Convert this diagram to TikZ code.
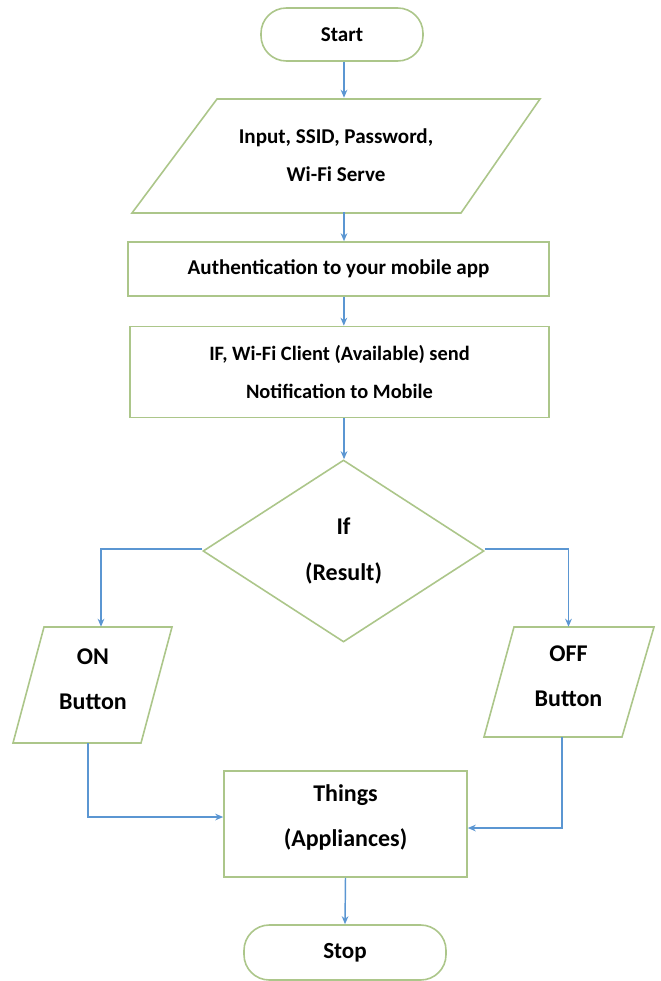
\documentclass[tikz,border=0pt]{standalone}
\usepackage{fontspec}
\setmainfont{Carlito}
\usetikzlibrary{shapes.geometric,arrows.meta,calc}
\definecolor{boxgreen}{RGB}{172,198,138}
\definecolor{arrowblue}{RGB}{91,150,210}
\begin{document}
\begin{tikzpicture}[x=0.75pt,y=-0.75pt,
  font=\fontsize{15.8}{28.5}\selectfont\bfseries,
  bigtext/.style={font=\fontsize{18}{34}\selectfont\bfseries},
  shapeline/.style={draw=boxgreen,line width=1.2pt},
  box/.style={shapeline,rectangle,inner sep=0pt,align=center},
  termbox/.style={box,rounded corners=19pt},
  txt/.style={rectangle,inner sep=0pt,align=center,minimum width=10pt},
  arr/.style={draw=arrowblue,line width=1.1pt,-{Stealth[length=6pt,width=5pt]}}]
\useasboundingbox (0,0) rectangle (660,981);
% shapes
\node[termbox,minimum width=121.5pt,minimum height=39.75pt] (start) at (342,34.5) {Start};
\draw[shapeline] (217,99) -- (540,99) -- (461,213) -- (132,213) -- cycle;
\node[txt,minimum height=85.5pt] (in) at (336,155) {Input, SSID, Password,\\Wi-Fi Serve};
\node[box,minimum width=315.75pt,minimum height=40.5pt] (auth) at (338.5,269) {Authentication to your mobile app};
\node[box,minimum width=314.25pt,minimum height=68.25pt,font=\fontsize{15.3}{28.5}\selectfont\bfseries] (ifc) at (339.5,372) {IF, Wi-Fi Client (Available) send\\Notification to Mobile};
\node[shapeline,diamond,inner sep=0pt,minimum width=210.75pt,minimum height=136.5pt,align=center,bigtext] (dia) at (343.5,551) {If\\(Result)};
\draw[shapeline] (44,627) -- (172,627) -- (141,743) -- (13,743) -- cycle;
\node[txt,minimum height=87pt] (on) at (93,685) {};
\node[txt,bigtext] (onlabel) at (93,679.5) {ON\\Button};
\draw[shapeline] (514,627) -- (654,627) -- (622,737) -- (484,737) -- cycle;
\node[txt,minimum height=82.5pt] (off) at (568.5,682) {};
\node[txt,bigtext] (offlabel) at (568.5,676) {OFF\\Button};
\node[box,minimum width=182.25pt,minimum height=79.5pt] (things) at (345.5,824) {};
\node[txt,bigtext] (thingslabel) at (345.5,817.5) {Things\\(Appliances)};
\node[termbox,minimum width=151.5pt,minimum height=41.25pt,font=\fontsize{17.3}{20}\selectfont\bfseries] (stop) at (345,952.5) {Stop};
% connector anchors
\coordinate (c1) at ([xshift=1.5pt]start.south);
\coordinate (c2) at ([xshift=6pt]in.south);
\coordinate (c3) at ([xshift=4pt]auth.south);
\coordinate (c4) at ([xshift=3.4pt]ifc.south);
\coordinate (c5) at ([xshift=6pt]on.north);
\coordinate (c6) at ([xshift=-3.75pt]on.south);
\coordinate (c7) at ([xshift=-4.9pt]off.south);
\coordinate (c8) at ([yshift=5.25pt]things.west);
\coordinate (c9) at ([yshift=-3pt]things.east);
\coordinate (d1) at ([yshift=1.5pt]dia.west);
\coordinate (d2) at ([yshift=1.5pt]dia.east);
% connectors
\draw[arr] (c1) -- (c1 |- in.north);
\draw[arr] (c2) -- (c2 |- auth.north);
\draw[arr] (c3) -- (c3 |- ifc.north);
\draw[arr] (c4) -- (c4 |- dia.north);
\draw[arr] (d1) -| (c5);
\draw[arr] (d2) -| (off.north);
\draw[arr] (c6) |- (c8);
\draw[arr] (c7) |- (c9);
\draw[arr] (things.south) -- (stop.north);
\end{tikzpicture}
\end{document}
